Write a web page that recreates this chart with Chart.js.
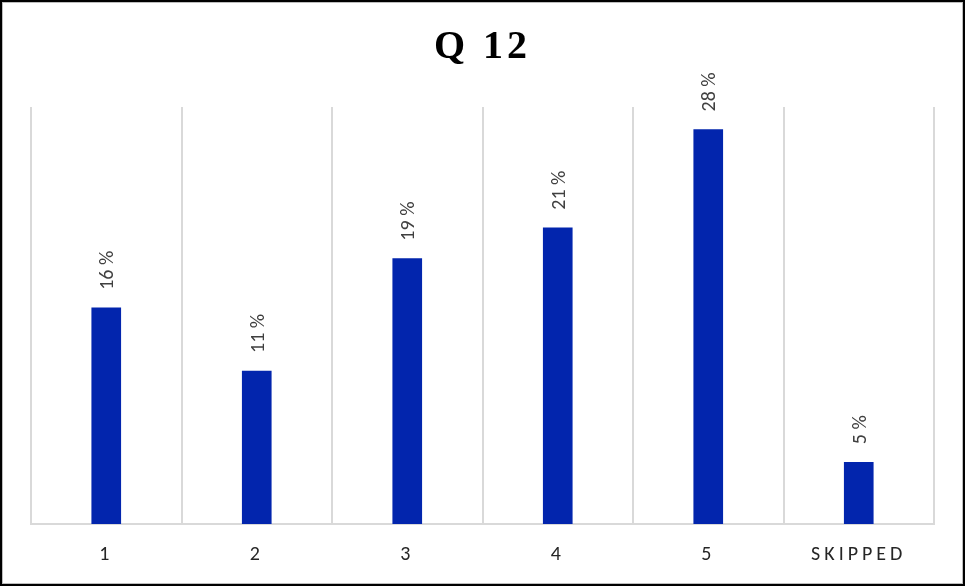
<!DOCTYPE html>
<html>
<head>
<meta charset="utf-8">
<script src="https://cdn.jsdelivr.net/npm/chart.js@4"></script>
<style>
  html, body { margin: 0; padding: 0; background: #fff; }
  #wrap { position: relative; width: 965px; height: 586px; }
  #frame {
    position: absolute; left: 0; top: 0; width: 965px; height: 586px;
    box-sizing: border-box; border: 2px solid #000;
    box-shadow: inset 0 0 0 1px #bdbdbd; pointer-events: none;
  }
</style>
</head>
<body>
<div id="wrap">
  <canvas id="chartQ12" width="965" height="586"></canvas>
  <div id="frame"></div>
</div>
<script>
(function () {
  'use strict';

  // categories and values (percent)
  var categories = ['1', '2', '3', '4', '5', 'SKIPPED'];
  var percents = [15.4, 10.9, 18.9, 21.1, 28.1, 4.4];
  var valueLabels = ['16 %', '11 %', '19 %', '21 %', '28 %', '5 %'];
  var chartTitle = 'Q 12';

  var sansFont = 'Carlito, "Open Sans", "Noto Sans", sans-serif';

  var spacing = {
    id: 'spacing',
    beforeDraw: function (chart) {
      chart.ctx.letterSpacing = '4px';
    },
  };

  var barLabels = {
    id: 'barLabels',
    afterDatasetsDraw: function (chart) {
      var ctx = chart.ctx;
      var meta = chart.getDatasetMeta(0);
      ctx.save();
      ctx.letterSpacing = '0px';
      ctx.font = '20px ' + sansFont;
      ctx.fillStyle = '#404040';
      ctx.textAlign = 'left';
      ctx.textBaseline = 'middle';
      meta.data.forEach(function (bar, i) {
        ctx.save();
        ctx.translate(bar.x + 2, bar.y - 18);
        ctx.rotate(-Math.PI / 2);
        ctx.fillText(valueLabels[i], 0, 0);
        ctx.restore();
      });
      ctx.restore();
    },
  };

  new Chart(document.getElementById('chartQ12').getContext('2d'), {
    type: 'bar',
    data: {
      labels: categories,
      datasets: [
        {
          data: percents,
          backgroundColor: '#0225ad',
          barThickness: 29,
        },
      ],
    },
    options: {
      responsive: false,
      animation: false,
      layout: { padding: { left: 31, right: 31, top: 0, bottom: 0 } },
      plugins: {
        legend: { display: false },
        tooltip: { enabled: false },
        title: {
          display: true,
          text: chartTitle,
          color: '#000',
          font: { family: '"Liberation Serif", "Times New Roman", serif', size: 40, weight: 'bold' },
          padding: { top: 24, bottom: 35 },
        },
      },
      scales: {
        y: { display: false, min: 0, max: 29.7 },
        x: {
          grid: { offset: true, color: '#d9d9d9', lineWidth: 2, drawTicks: false },
          border: { color: '#d9d9d9', width: 2 },
          ticks: {
            color: '#262626',
            font: { family: sansFont, size: 20 },
            padding: 19,
          },
        },
      },
    },
    plugins: [spacing, barLabels],
  });
})();
</script>
</body>
</html>
